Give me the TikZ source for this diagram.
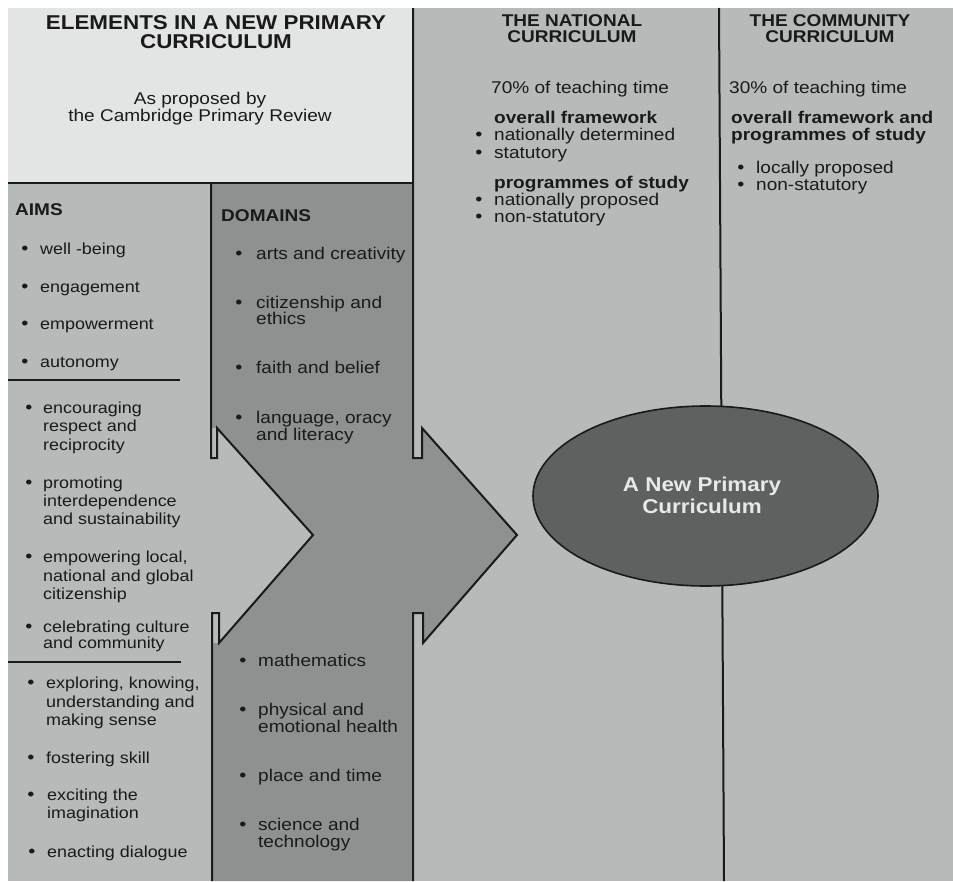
\documentclass[tikz,border=0pt]{standalone}
\usepackage{fontspec}
\setmainfont{Liberation Sans}[FakeStretch=1.12]
\usetikzlibrary{shapes.geometric}
\definecolor{bgl}{RGB}{182,186,185}
\definecolor{boxw}{RGB}{227,229,228}
\definecolor{dom}{RGB}{141,146,145}
\definecolor{ellc}{RGB}{93,97,95}
\definecolor{inkc}{RGB}{26,26,26}
\definecolor{elltxt}{RGB}{232,232,232}
\tikzset{
  ln/.style={draw=inkc, line width=2pt, line join=miter},
  sep/.style={draw=inkc, line width=2.5pt},
  ttl/.style={anchor=base, inner sep=0pt, text=inkc, font=\fontsize{20}{20}\selectfont\bfseries},
  sub/.style={anchor=base, inner sep=0pt, text=inkc, font=\fontsize{17}{17}\selectfont},
  hd/.style={anchor=base, inner sep=0pt, text=inkc, font=\fontsize{17}{17}\selectfont\bfseries},
  hdl/.style={anchor=base west, inner sep=0pt, text=inkc, font=\fontsize{17}{17}\selectfont\bfseries},
  lbody/.style={anchor=base west, inner sep=0pt, text=inkc, font=\fontsize{16}{16}\selectfont},
  dbody/.style={anchor=base west, inner sep=0pt, text=inkc, font=\fontsize{17}{17}\selectfont},
  rbody/.style={anchor=base west, inner sep=0pt, text=inkc, font=\fontsize{17}{17}\selectfont},
  bul/.style={anchor=base, inner sep=0pt, text=inkc, font=\fontsize{18}{18}\selectfont},
  core/.style={ellipse, draw=inkc, line width=1.6pt, fill=ellc, minimum width=345pt, minimum height=180pt, inner sep=0pt},
  ctext/.style={anchor=base, inner sep=0pt, text=elltxt, font=\fontsize{20}{20}\selectfont\bfseries}
}
\begin{document}
\begin{tikzpicture}[x=1pt,y=-1pt]
\useasboundingbox (0,0) rectangle (953,881);
\fill[white] (0,0) rectangle (953,881);
\fill[bgl] (8,8) rectangle (953,881);
\fill[boxw] (8,8) rectangle (413,183);
% domains column with chevron arrow
\fill[dom] (211,183) -- (413,183) -- (413,458) -- (422,458) -- (422,428) -- (517,535)
  -- (423,643) -- (423,613) -- (413,613) -- (413,881) -- (212,881) -- (212,643)
  -- (219,643) -- (313,535) -- (217,428) -- (211,428) -- cycle;
\draw[ln] (211,183) -- (211,458) -- (217,458) -- (217,428) -- (313,535) -- (219,643)
  -- (219,613) -- (212,613) -- (212,881);
\draw[ln] (413,8) -- (413,458) -- (422,458) -- (422,428) -- (517,535) -- (423,643)
  -- (423,613) -- (413,613) -- (413,881);
\draw[ln] (8,183) -- (413,183);
\draw[ln] (719,8) -- (724,881);
\draw[sep] (8,380) -- (180,380);
\draw[sep] (8,662) -- (181,662);
% ellipse
\node[core] (np) at (705.5,496) {};
\node[ctext] (np1) at (702,491) {A New Primary};
\node[ctext] (np2) at (702,513) {Curriculum};
% title
\node[ttl] (t1) at (216,29) {ELEMENTS IN A NEW PRIMARY};
\node[ttl] (t2) at (216,48) {CURRICULUM};
\node[sub] (s1) at (200,104) {As proposed by};
\node[sub] (s2) at (200,121) {the Cambridge Primary Review};
% aims
\node[hdl] (aims) at (15,215) {AIMS};
\node[bul] (a1b) at (25,254) {\textbullet}; \node[lbody] (a1) at (40,254) {well -being};
\node[bul] (a2b) at (25,292) {\textbullet}; \node[lbody] (a2) at (40,292) {engagement};
\node[bul] (a3b) at (25,329) {\textbullet}; \node[lbody] (a3) at (40,329) {empowerment};
\node[bul] (a4b) at (25,367) {\textbullet}; \node[lbody] (a4) at (40,367) {autonomy};
\node[bul] (a5b) at (29,413) {\textbullet}; \node[lbody] (a5) at (43,413) {encouraging};
\node[lbody] (a5x) at (43,431) {respect and};
\node[lbody] (a5y) at (43,450) {reciprocity};
\node[bul] (a6b) at (29,488) {\textbullet}; \node[lbody] (a6) at (43,488) {promoting};
\node[lbody] (a6x) at (43,506) {interdependence};
\node[lbody] (a6y) at (43,524) {and sustainability};
\node[bul] (a7b) at (29,562) {\textbullet}; \node[lbody] (a7) at (43,562) {empowering local,};
\node[lbody] (a7x) at (43,581) {national and global};
\node[lbody] (a7y) at (43,599) {citizenship};
\node[bul] (a8b) at (29,632) {\textbullet}; \node[lbody] (a8) at (43,632) {celebrating culture};
\node[lbody] (a8x) at (43,648) {and community};
\node[bul] (a9b) at (31,688) {\textbullet}; \node[lbody] (a9) at (46,688) {exploring, knowing,};
\node[lbody] (a9x) at (46,707) {understanding and};
\node[lbody] (a9y) at (46,725) {making sense};
\node[bul] (a10b) at (31,763) {\textbullet}; \node[lbody] (a10) at (46,763) {fostering skill};
\node[bul] (a11b) at (31,800) {\textbullet}; \node[lbody] (a11) at (47,800) {exciting the};
\node[lbody] (a11x) at (47,818) {imagination};
\node[bul] (a12b) at (32,857) {\textbullet}; \node[lbody] (a12) at (47,857) {enacting dialogue};
% domains
\node[hdl] (doms) at (221,221) {DOMAINS};
\node[bul] (d1b) at (239,259) {\textbullet}; \node[dbody] (d1) at (256,259) {arts and creativity};
\node[bul] (d2b) at (239,308) {\textbullet}; \node[dbody] (d2) at (256,308) {citizenship and};
\node[dbody] (d2x) at (256,324) {ethics};
\node[bul] (d3b) at (239,373) {\textbullet}; \node[dbody] (d3) at (256,373) {faith and belief};
\node[bul] (d4b) at (239,423) {\textbullet}; \node[dbody] (d4) at (256,423) {language, oracy};
\node[dbody] (d4x) at (256,440) {and literacy};
\node[bul] (d5b) at (243,666) {\textbullet}; \node[dbody] (d5) at (258,666) {mathematics};
\node[bul] (d6b) at (243,715) {\textbullet}; \node[dbody] (d6) at (258,715) {physical and};
\node[dbody] (d6x) at (258,732) {emotional health};
\node[bul] (d7b) at (243,781) {\textbullet}; \node[dbody] (d7) at (258,781) {place and time};
\node[bul] (d8b) at (243,830) {\textbullet}; \node[dbody] (d8) at (258,830) {science and};
\node[dbody] (d8x) at (258,847) {technology};
% national curriculum
\node[hd] (n1) at (572,26) {THE NATIONAL};
\node[hd] (n2) at (572,42) {CURRICULUM};
\node[rbody] (n3) at (491,93) {70\% of teaching time};
\node[hdl] (n4) at (494,123) {overall framework};
\node[bul] (n5b) at (479,140) {\textbullet}; \node[rbody] (n5) at (494,140) {nationally determined};
\node[bul] (n6b) at (479,158) {\textbullet}; \node[rbody] (n6) at (494,158) {statutory};
\node[hdl] (n7) at (494,188) {programmes of study};
\node[bul] (n8b) at (479,205) {\textbullet}; \node[rbody] (n8) at (494,205) {nationally proposed};
\node[bul] (n9b) at (479,222) {\textbullet}; \node[rbody] (n9) at (494,222) {non-statutory};
% community curriculum
\node[hd] (c1) at (830,26) {THE COMMUNITY};
\node[hd] (c2) at (830,42) {CURRICULUM};
\node[rbody] (c3) at (729,93) {30\% of teaching time};
\node[hdl] (c4) at (731,123) {overall framework and};
\node[hdl] (c5) at (731,140) {programmes of study};
\node[bul] (c6b) at (741,173) {\textbullet}; \node[rbody] (c6) at (756,173) {locally proposed};
\node[bul] (c7b) at (741,190) {\textbullet}; \node[rbody] (c7) at (756,190) {non-statutory};
\end{tikzpicture}
\end{document}
